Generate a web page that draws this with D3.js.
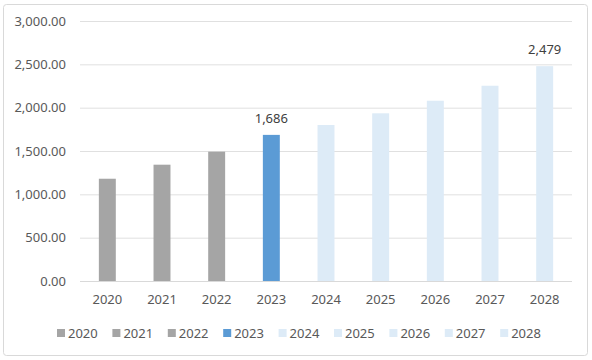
<!DOCTYPE html>
<html><head><meta charset="utf-8">
<script src="https://cdn.jsdelivr.net/npm/d3@7"></script>
<style>body{margin:0;background:#fff;} text{font-family:"Noto Sans","DejaVu Sans",sans-serif;}</style>
</head><body>
<svg id="c" width="592" height="360"></svg>
<script>
const categories = ["2020","2021","2022","2023","2024","2025","2026","2027","2028"];
const values = [1180, 1342, 1492, 1686, 1800, 1935, 2080, 2253, 2479];
const colors = ["#a5a5a5","#a5a5a5","#a5a5a5","#5b9bd5","#ddebf7","#ddebf7","#ddebf7","#ddebf7","#ddebf7"];
const yTicks = [0, 500, 1000, 1500, 2000, 2500, 3000];
const labelled = ["2023","2028"];

const svg = d3.select("#c");
svg.append("rect").attr("x",3.5).attr("y",4.5).attr("width",584).attr("height",351)
  .attr("rx",3).attr("fill","#fff").attr("stroke","#d9d9d9");

const x = d3.scaleBand().domain(categories).range([80,572]).paddingInner(0.69).paddingOuter(0.345);
const y = d3.scaleLinear().domain([0,3000]).range([281,21]);

const yAxis = svg.append("g").attr("transform","translate(80,0)")
  .call(d3.axisLeft(y).tickValues(yTicks).tickSize(-492).tickPadding(14).tickFormat(d3.format(",.2f")));
yAxis.select(".domain").remove();
yAxis.selectAll(".tick line").attr("stroke","#e0e0e0");
yAxis.selectAll(".tick text").attr("fill","#595959").style("font-size","13px");

svg.selectAll(".bar").data(categories).enter().append("rect")
  .attr("x",d=>x(d)).attr("width",x.bandwidth())
  .attr("y",(d,i)=>y(values[i])).attr("height",(d,i)=>y(0)-y(values[i]))
  .attr("fill",(d,i)=>colors[i]);

svg.append("line").attr("x1",80).attr("x2",572).attr("y1",y(0)+0.5).attr("y2",y(0)+0.5).attr("stroke","#d9d9d9");

const xAxis = svg.append("g").attr("transform",`translate(0,${y(0)})`)
  .call(d3.axisBottom(x).tickSize(0).tickPadding(14));
xAxis.select(".domain").remove();
xAxis.selectAll(".tick text").attr("fill","#595959").style("font-size","13px");

svg.selectAll(".lbl").data(categories.filter(c=>labelled.includes(c))).enter().append("text")
  .attr("x",d=>x(d)+x.bandwidth()/2).attr("y",d=>y(values[categories.indexOf(d)])-12)
  .attr("text-anchor","middle").attr("fill","#404040").style("font-size","13px")
  .text(d=>d3.format(",")(values[categories.indexOf(d)]));

const leg = svg.append("g");
categories.forEach((c,i)=>{
  const lx = 57 + i*55.4;
  leg.append("rect").attr("x",lx).attr("y",329).attr("width",8).attr("height",8).attr("fill",colors[i]);
  leg.append("text").attr("x",lx+11).attr("y",338).attr("fill","#595959").style("font-size","13px").text(c);
});
</script>
</body></html>
